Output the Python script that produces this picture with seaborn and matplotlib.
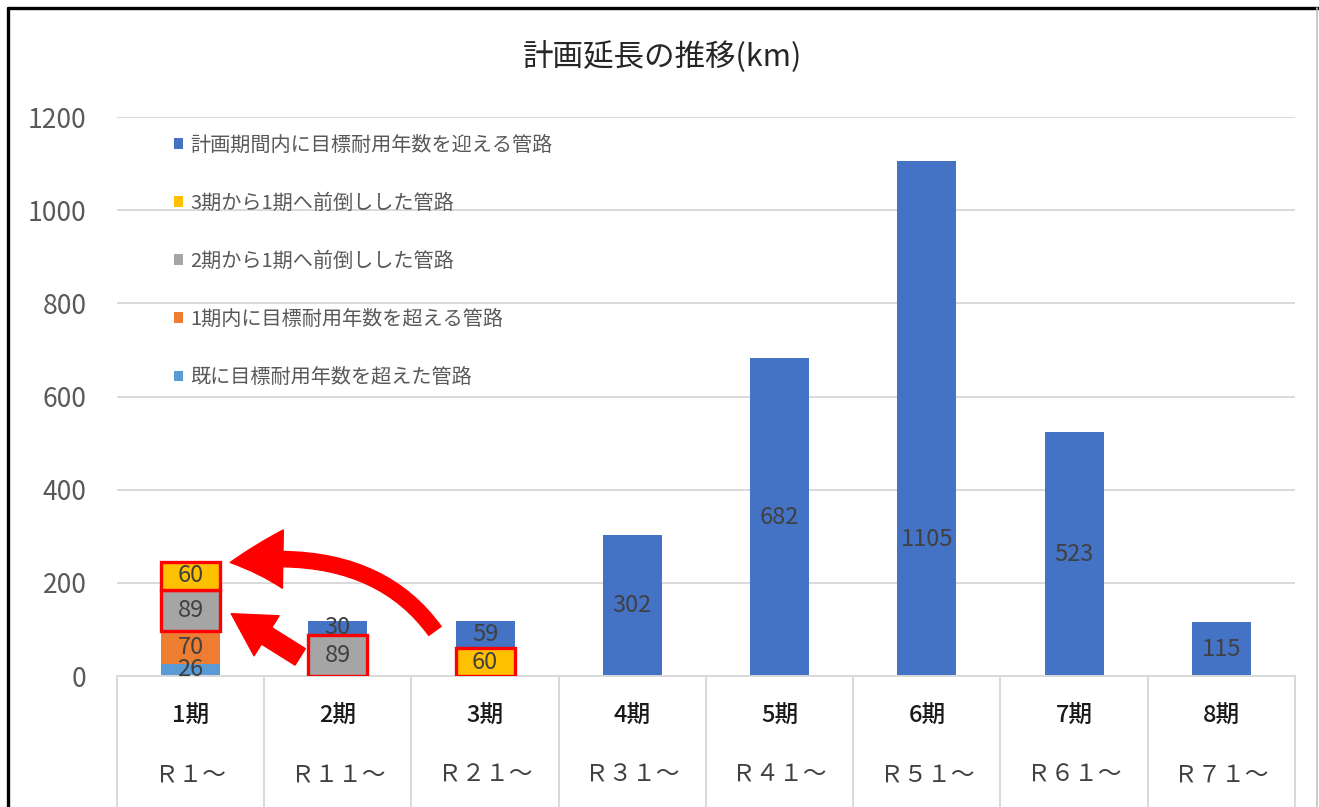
import matplotlib
matplotlib.use("Agg")
import matplotlib.pyplot as plt
import seaborn as sns
import numpy as np
from matplotlib.patches import FancyArrowPatch, Patch
from matplotlib.lines import Line2D

# ---------------- data ----------------
periods = ["1期", "2期", "3期", "4期", "5期", "6期", "7期", "8期"]
start_years = ["Ｒ１～", "Ｒ１１～", "Ｒ２１～", "Ｒ３１～", "Ｒ４１～", "Ｒ５１～", "Ｒ６１～", "Ｒ７１～"]

s_existing = [26, 0, 0, 0, 0, 0, 0, 0]        # 既に目標耐用年数を超えた管路
s_within1 = [70, 0, 0, 0, 0, 0, 0, 0]         # 1期内に目標耐用年数を超える管路
s_from2 = [89, 89, 0, 0, 0, 0, 0, 0]          # 2期から1期へ前倒しした管路
s_from3 = [60, 0, 60, 0, 0, 0, 0, 0]          # 3期から1期へ前倒しした管路
s_planned = [0, 30, 59, 302, 682, 1105, 523, 115]  # 計画期間内に目標耐用年数を迎える管路

series_names = ["既に目標耐用年数を超えた管路", "1期内に目標耐用年数を超える管路",
                "2期から1期へ前倒しした管路", "3期から1期へ前倒しした管路",
                "計画期間内に目標耐用年数を迎える管路"]
series_vals = [s_existing, s_within1, s_from2, s_from3, s_planned]
series_colors = ["#5B9BD5", "#ED7D31", "#A5A5A5", "#FFC000", "#4472C4"]
# segments outlined in red (highlighted moves)
highlight = [[False]*8, [False]*8,
             [True, True] + [False]*6,
             [True, False, True] + [False]*5,
             [False]*8]
# data label that sits lower than the segment centre in the original (6期)
label_y_override = {(4, 5): 292}

title = "計画延長の推移(km)"
yticks = [0, 200, 400, 600, 800, 1000, 1200]

# ---------------- style ----------------
sns.set_theme(style="white")
plt.rcParams["font.family"] = ["Noto Sans CJK JP", "DejaVu Sans"]

fig = plt.figure(figsize=(13.19, 8.07), dpi=100)
ax = fig.add_axes([0.0887, 0.1623, 0.8931, 0.6927])

label_kw = dict(fontsize=17, color="#404040")
bottom = np.zeros(len(periods))
for si, (name, vals, col, hl) in enumerate(zip(series_names, series_vals, series_colors, highlight)):
    vals = np.array(vals, dtype=float)
    ec = ["#FF0000" if h else col for h in hl]
    lw = [2.4 if h else 0 for h in hl]
    sns.barplot(x=periods, y=vals, order=periods, bottom=bottom, color=col,
                width=0.4, errorbar=None, ax=ax,
                edgecolor=ec, linewidth=lw, saturation=1)
    cont = ax.containers[-1]
    for p, h in zip(cont, hl):
        if h:
            p.set_zorder(3)
    labels = []
    for i, v in enumerate(vals):
        if v > 0 and (si, i) in label_y_override:
            ax.text(i, label_y_override[(si, i)], f"{int(v)}", ha="center",
                    va="center", **label_kw)
            labels.append("")
        else:
            labels.append(f"{int(v)}" if v > 0 else "")
    ax.bar_label(cont, labels=labels, label_type="center", **label_kw)
    bottom = bottom + vals

ax.set_xlim(-0.5, len(periods) - 0.5)
ax.set_ylim(0, 1200)
ax.set_yticks(yticks)
ax.set_yticklabels([str(t) for t in yticks], fontsize=19, color="#595959")
ax.tick_params(axis="y", length=0, pad=22)
ax.set_xticks(range(len(periods)))
ax.set_xticklabels([""] * len(periods))
ax.tick_params(axis="x", length=0)
ax.set_xlabel("")
ax.set_ylabel("")
ax.yaxis.grid(True, color="#D9D9D9", linewidth=1.4)
ax.set_axisbelow(True)
for s in ["left", "right", "top"]:
    ax.spines[s].set_visible(False)
ax.spines["bottom"].set_color("#D9D9D9")
ax.spines["bottom"].set_linewidth(1.4)

# category separators and two-level labels
xt = ax.get_xaxis_transform()
for i in range(len(periods) + 1):
    ax.plot([i - 0.5, i - 0.5], [0, -0.25], transform=xt, color="#D9D9D9",
            linewidth=1.4, clip_on=False)
for i, (p, r) in enumerate(zip(periods, start_years)):
    ax.text(i, -0.0716, p, transform=xt, ha="center", va="center",
            fontsize=17, color="#1A1A1A", fontweight="medium")
    ax.text(i, -0.177, r, transform=xt, ha="center", va="center",
            fontsize=17, color="#404040")

# legend (Excel order: top series first)
handles = [Patch(facecolor=c, edgecolor="none") for c in series_colors[::-1]]
leg = ax.legend(handles, series_names[::-1], loc="upper left", bbox_to_anchor=(0.048, 0.968),
                frameon=False, fontsize=14.5, labelspacing=1.84, handlelength=0.45,
                handleheight=0.45, handletextpad=0.4, borderpad=0, borderaxespad=0)
for t in leg.get_texts():
    t.set_color("#595959")

# red arrows (annotations)
arr1 = FancyArrowPatch((1.67, 92), (0.25, 243),
                       connectionstyle="angle3,angleA=125,angleB=8",
                       arrowstyle="simple,head_width=42,head_length=38,tail_width=11",
                       color="#FF0000", mutation_scale=1, zorder=5, clip_on=False)
ax.add_patch(arr1)
arr2 = FancyArrowPatch((0.76, 38), (0.26, 137),
                       arrowstyle="simple,head_width=34,head_length=30,tail_width=14",
                       color="#FF0000", mutation_scale=1, zorder=5, clip_on=False)
ax.add_patch(arr2)

fig.text(0.502, 0.929, title, ha="center", va="center", fontsize=22, color="#262626")

# outer frame
fig.add_artist(Line2D([8/1319, 1.0], [1 - 8/807, 1 - 8/807], color="black", linewidth=2.4))
fig.add_artist(Line2D([8/1319, 8/1319], [0, 1 - 8/807], color="black", linewidth=2.4))
fig.add_artist(Line2D([1317/1319, 1317/1319], [0, 1 - 8/807], color="#BFBFBF", linewidth=1.2))

fig.savefig("out.png", dpi=100)
